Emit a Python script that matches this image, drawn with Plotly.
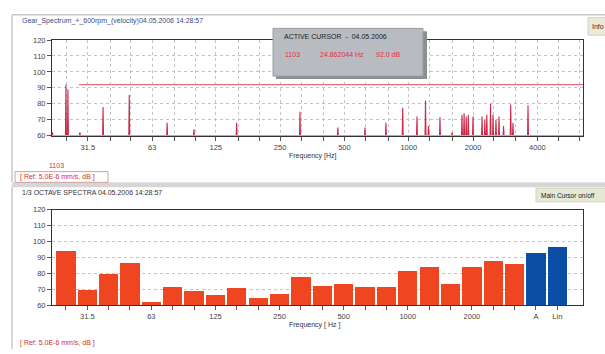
import math
import plotly.graph_objects as go

# ---------------- data ----------------
# narrow-band spectrum peaks (Hz, dB)
peak_freq = [21.5, 24.86, 25.4, 28.9, 37.1, 49.2, 74.0, 98.8, 156.5, 309.7, 466, 624, 782,
             937, 1093, 1198, 1237, 1400, 1594, 1775, 1816, 1858, 1900, 1999, 2203, 2271,
             2320, 2414, 2480, 2560, 2646, 2778, 3001, 3075, 3616]
peak_db = [62, 92.0, 89, 62, 78, 85.5, 68, 64, 68, 75, 65, 65, 68,
           77.5, 72, 82, 66, 71.5, 62, 73, 74, 72, 73, 72, 72, 70,
           73, 80, 73, 70, 72, 66, 79.5, 68, 79]
spec_floor = 60
spec_fmin, spec_fmax = 21.4, 6540

oct_tick_vals = [31.5, 63, 125, 250, 500, 1000, 2000, 4000]
third_oct_grid = [25, 31.5, 40, 50, 63, 80, 100, 125, 160, 200, 250, 315, 400, 500, 630, 800,
                  1000, 1250, 1600, 2000, 2500, 3150, 4000, 5000, 6300]

cursor_id = "1103"
cursor_freq = 24.862044
cursor_db = 92.0
cursor_line_start = 28.6

# 1/3 octave band levels
band_labels = ["25", "31.5", "40", "50", "63", "80", "100", "125", "160", "200", "250", "315",
               "400", "500", "630", "800", "1000", "1250", "1600", "2000", "2500", "3150"]
band_db = [94, 70, 80, 87, 62, 71.5, 69, 66.7, 71, 64.7, 67.5, 78,
           72, 73.5, 71.5, 71.5, 81.6, 84.2, 73.5, 84.2, 87.7, 86]
total_labels = ["A", "Lin"]
total_db = [93.3, 96.8]
shown_band_labels = ["31.5", "63", "125", "250", "500", "1000", "2000", "A", "Lin"]

y_ticks = [60, 70, 80, 90, 100, 110, 120]

# ---------------- helpers ----------------
W, H = 605, 354
def X(px):
    return px / W
def Y(py):
    return 1 - py / H

FONT = "Liberation Sans, Arial, sans-serif"
RED = "#cc2a48"
BAR_RED = "#ef4521"
BAR_BLUE = "#0b4ea6"

# spectrum as spikes on the floor
xs, ys = [spec_fmin], [spec_floor]
for f, d in sorted(zip(peak_freq, peak_db)):
    xs += [f / 1.005, f, f * 1.005]
    ys += [spec_floor, d, spec_floor]
xs.append(spec_fmax)
ys.append(spec_floor)

fig = go.Figure()
fig.add_trace(go.Scatter(x=xs, y=ys, mode="lines", line=dict(color=RED, width=1.1),
                         xaxis="x", yaxis="y", hoverinfo="skip", showlegend=False))

all_labels = band_labels + total_labels
idx = list(range(len(all_labels)))
fig.add_trace(go.Bar(x=idx[:len(band_labels)], y=[v - 60 for v in band_db], base=60,
                     marker=dict(color=BAR_RED, line=dict(width=0)),
                     xaxis="x2", yaxis="y2", showlegend=False, width=0.9))
fig.add_trace(go.Bar(x=idx[len(band_labels):], y=[v - 60 for v in total_db], base=60,
                     marker=dict(color=BAR_BLUE, line=dict(width=0)),
                     xaxis="x2", yaxis="y2", showlegend=False, width=0.9))

tickfont = dict(family=FONT, size=7.5, color="#444")
axcommon = dict(showline=True, linecolor="#333", linewidth=1, mirror=True,
                ticks="outside", ticklen=4, tickcolor="#555", tickfont=tickfont,
                zeroline=False)

fig.update_layout(
    width=W, height=H, margin=dict(l=0, r=0, t=0, b=0),
    paper_bgcolor="white", plot_bgcolor="white",
    font=dict(family=FONT), bargap=0,
    xaxis=dict(type="log", domain=[X(52), X(583)], anchor="y",
               range=[math.log10(spec_fmin), math.log10(spec_fmax)],
               tickmode="array", tickvals=third_oct_grid,
               ticktext=[(str(v) if v in oct_tick_vals else "") for v in third_oct_grid],
               showgrid=True, gridcolor="#c4c4c4", griddash="dot", gridwidth=1,
               **axcommon),
    yaxis=dict(domain=[Y(135), Y(37)], anchor="x", range=[60, 120],
               tickvals=y_ticks, showgrid=True, gridcolor="#c4c4c4", griddash="dot",
               **axcommon),
    xaxis2=dict(domain=[X(52), X(583)], anchor="y2", range=[-0.65, 24.2],
                tickmode="array", tickvals=idx,
                ticktext=[(l if l in shown_band_labels else "") for l in all_labels],
                showgrid=False, **axcommon),
    yaxis2=dict(domain=[Y(309), Y(211)], anchor="x2", range=[60, 120],
                tickvals=y_ticks, showgrid=True, gridcolor="#c4c4c4", griddash="dot",
                **axcommon),
)

shapes = []
# panel borders
shapes.append(dict(type="line", xref="paper", yref="paper", x0=X(12), x1=X(605), y0=Y(11), y1=Y(11),
                   line=dict(color="#c8c8c8", width=1.5)))
shapes.append(dict(type="line", xref="paper", yref="paper", x0=X(12), x1=X(12), y0=Y(11), y1=Y(183),
                   line=dict(color="#c8c8c8", width=1.5)))
shapes.append(dict(type="line", xref="paper", yref="paper", x0=X(12), x1=X(12), y0=Y(188), y1=Y(354),
                   line=dict(color="#c8c8c8", width=1.5)))
# separator
shapes.append(dict(type="rect", xref="paper", yref="paper", x0=X(12), x1=X(605), y0=Y(188), y1=Y(183),
                   fillcolor="#d6d6d6", line=dict(width=0), layer="below"))
# cursor level line
shapes.append(dict(type="line", xref="x", yref="y", x0=cursor_line_start, x1=spec_fmax,
                   y0=cursor_db, y1=cursor_db, line=dict(color="#e07080", width=1.3)))
# cursor box + shadow
shapes.append(dict(type="rect", xref="paper", yref="paper", x0=X(276), x1=X(427), y0=Y(77), y1=Y(28),
                   fillcolor="#8c9094", line=dict(width=0)))
shapes.append(dict(type="rect", xref="paper", yref="paper", x0=X(273), x1=X(423), y0=Y(74), y1=Y(25),
                   fillcolor="#b8bcc0", line=dict(color="#9a9ea2", width=1)))
# ref boxes
shapes.append(dict(type="rect", xref="paper", yref="paper", x0=X(15), x1=X(108), y0=Y(183), y1=Y(172),
                   fillcolor="white", line=dict(color="#d0a0a0", width=1)))
# buttons
shapes.append(dict(type="rect", xref="paper", yref="paper", x0=X(588), x1=X(610), y0=Y(32), y1=Y(14),
                   fillcolor="#ece9d8", line=dict(color="#d4d0c0", width=1)))
shapes.append(dict(type="rect", xref="paper", yref="paper", x0=X(536), x1=X(610), y0=Y(203), y1=Y(189),
                   fillcolor="#e6e8d4", line=dict(color="#cfd1bd", width=1)))
fig.update_layout(shapes=shapes)

def txt(px, py, s, size=7, color="#333", anchor="left"):
    return dict(xref="paper", yref="paper", x=X(px), y=Y(py), text=s, showarrow=False,
                xanchor=anchor, yanchor="middle", font=dict(family=FONT, size=size, color=color))

ann = [
    txt(20, 17, "Gear_Spectrum_+_600rpm_(velocity)04.05.2006 14:28:57", 7, "#3c4c7c"),
    txt(282, 33, "ACTIVE CURSOR  -  04.05.2006", 7, "#222"),
    txt(283, 52, cursor_id, 7, "#e03040"),
    txt(318, 52, f"{cursor_freq:.6f} Hz", 7, "#e03040"),
    txt(374, 52, f"{cursor_db:.1f} dB", 7, "#e03040"),
    txt(313, 156, "Frequency [Hz]", 7, "#333", "center"),
    txt(56, 166, cursor_id, 7, "#d03030", "center"),
    txt(18, 178, "[ Ref: 5.0E-6 mm/s, dB ]", 7, "#d03030"),
    txt(20, 193, "1/3 OCTAVE SPECTRA 04.05.2006 14:28:57", 7, "#333"),
    txt(314, 329, "Frequency [ Hz ]", 7, "#333", "center"),
    txt(18, 348, "[ Ref: 5.0E-6 mm/s, dB ]", 7, "#d03030"),
    txt(590, 23, "Info", 7, "#333"),
    txt(539, 196, "Main Cursor on/off", 6.5, "#222"),
]
fig.update_layout(annotations=ann)

fig.write_html("out.html", config={"displayModeBar": False},
               post_script="document.body.style.margin='0px';document.body.style.overflow='hidden';")
